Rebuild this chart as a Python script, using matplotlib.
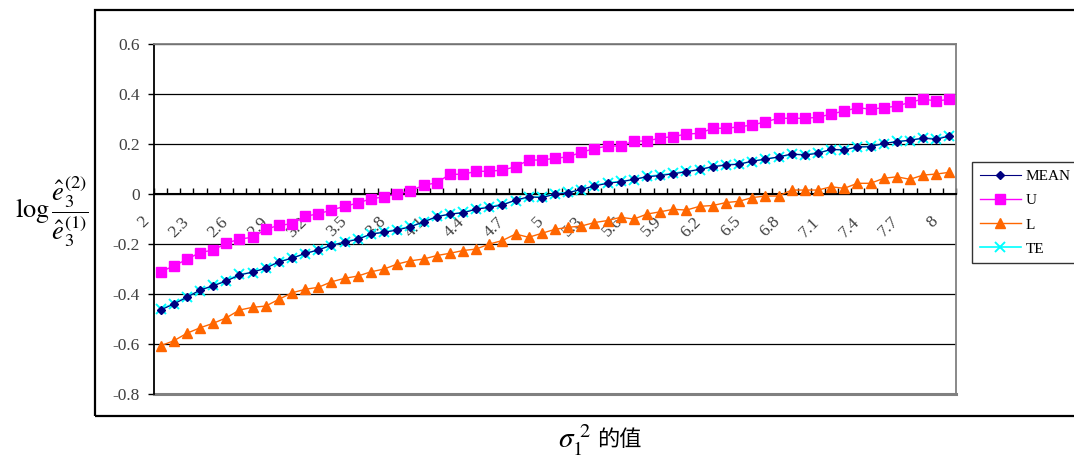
import matplotlib
matplotlib.use("Agg")
import matplotlib.pyplot as plt
import matplotlib.transforms as mtransforms
from matplotlib.patches import Rectangle
import numpy as np

plt.rcParams['font.family'] = ['Liberation Serif', 'Noto Sans CJK TC']
plt.rcParams['mathtext.fontset'] = 'stix'

# sigma_1^2 values (categories)
sigma_vals = ["2", "2.1", "2.2", "2.3", "2.4", "2.5", "2.6", "2.7", "2.8", "2.9",
              "3", "3.1", "3.2", "3.3", "3.4", "3.5", "3.6", "3.7", "3.8", "3.9",
              "4", "4.1", "4.2", "4.3", "4.4", "4.5", "4.6", "4.7", "4.8", "4.9",
              "5", "5.1", "5.2", "5.3", "5.4", "5.5", "5.6", "5.7", "5.8", "5.9",
              "6", "6.1", "6.2", "6.3", "6.4", "6.5", "6.6", "6.7", "6.8", "6.9",
              "7", "7.1", "7.2", "7.3", "7.4", "7.5", "7.6", "7.7", "7.8", "7.9",
              "8"]
shown_labels = ["2", "2.3", "2.6", "2.9", "3.2", "3.5", "3.8", "4.1", "4.4", "4.7",
                "5", "5.3", "5.6", "5.9", "6.2", "6.5", "6.8", "7.1", "7.4", "7.7", "8"]

mean_vals = [-0.463, -0.439, -0.412, -0.383, -0.366, -0.347, -0.323, -0.311, -0.296, -0.270,
             -0.256, -0.236, -0.223, -0.203, -0.192, -0.180, -0.159, -0.152, -0.143, -0.130,
             -0.110, -0.090, -0.079, -0.074, -0.060, -0.052, -0.043, -0.023, -0.010, -0.013,
             0.000, 0.006, 0.020, 0.033, 0.044, 0.050, 0.060, 0.070, 0.075, 0.082,
             0.090, 0.100, 0.110, 0.117, 0.120, 0.133, 0.140, 0.150, 0.161, 0.157,
             0.164, 0.180, 0.177, 0.190, 0.190, 0.204, 0.210, 0.217, 0.224, 0.220,
             0.233]
u_vals = [-0.310, -0.287, -0.260, -0.233, -0.223, -0.196, -0.179, -0.172, -0.140, -0.124,
          -0.118, -0.088, -0.078, -0.063, -0.048, -0.035, -0.018, -0.010, 0.001, 0.014,
          0.036, 0.046, 0.080, 0.080, 0.092, 0.092, 0.097, 0.110, 0.137, 0.137,
          0.144, 0.150, 0.168, 0.183, 0.193, 0.193, 0.213, 0.213, 0.225, 0.231,
          0.241, 0.244, 0.264, 0.264, 0.270, 0.277, 0.290, 0.304, 0.304, 0.304,
          0.308, 0.321, 0.333, 0.346, 0.341, 0.346, 0.353, 0.368, 0.381, 0.373,
          0.380]
l_vals = [-0.606, -0.586, -0.556, -0.534, -0.516, -0.494, -0.463, -0.452, -0.447, -0.420,
          -0.394, -0.380, -0.372, -0.350, -0.336, -0.327, -0.310, -0.299, -0.279, -0.266,
          -0.259, -0.245, -0.236, -0.225, -0.219, -0.199, -0.185, -0.159, -0.172, -0.156,
          -0.140, -0.132, -0.127, -0.113, -0.105, -0.092, -0.099, -0.079, -0.070, -0.060,
          -0.063, -0.048, -0.045, -0.033, -0.028, -0.013, -0.007, -0.007, 0.017, 0.017,
          0.017, 0.030, 0.024, 0.044, 0.044, 0.064, 0.070, 0.060, 0.077, 0.081,
          0.088]
te_vals = [-0.460, -0.437, -0.410, -0.385, -0.364, -0.345, -0.320, -0.313, -0.293, -0.270,
           -0.254, -0.238, -0.221, -0.205, -0.190, -0.178, -0.160, -0.150, -0.141, -0.128,
           -0.112, -0.088, -0.080, -0.072, -0.058, -0.050, -0.040, -0.025, -0.012, -0.010,
           0.002, 0.008, 0.018, 0.035, 0.046, 0.052, 0.058, 0.072, 0.077, 0.084,
           0.092, 0.098, 0.112, 0.118, 0.122, 0.131, 0.142, 0.148, 0.160, 0.159,
           0.166, 0.178, 0.179, 0.188, 0.192, 0.202, 0.212, 0.215, 0.226, 0.222,
           0.235]

y_ticks = [-0.8, -0.6, -0.4, -0.2, 0, 0.2, 0.4, 0.6]
y_ticklabels = ["-0.8", "-0.6", "-0.4", "-0.2", "0", "0.2", "0.4", "0.6"]

x = np.arange(len(sigma_vals))

fig = plt.figure(figsize=(10.74, 4.58), dpi=100)

# outer frame (Excel chart area)
fig.patches.append(Rectangle((95 / 1074, 1 - 416 / 458), 1.0, 406 / 458,
                             transform=fig.transFigure, fill=False,
                             edgecolor='black', linewidth=1.6, zorder=0))

ax = fig.add_axes([154 / 1074, 1 - 394.3 / 458, 802 / 1074, 350 / 458])

ax.plot(x, te_vals, color='#00FFFF', marker='x', markersize=7, mew=1.4,
        lw=1.2, label='TE', zorder=3)
ax.plot(x, mean_vals, color='#000080', marker='D', markersize=4.5,
        lw=0.8, label='MEAN', zorder=4)
ax.plot(x, u_vals, color='#FF00FF', marker='s', markersize=6.5,
        lw=1, label='U', zorder=3)
ax.plot(x, l_vals, color='#FF6600', marker='^', markersize=7.5,
        lw=1, label='L', zorder=3)

ax.set_xlim(-0.5, len(sigma_vals) - 0.5)
ax.set_ylim(-0.8, 0.6)
ax.set_axisbelow(True)

# y axis
ax.set_yticks(y_ticks)
ax.set_yticklabels(y_ticklabels, fontsize=12.5, color='#404040')
ax.tick_params(axis='y', direction='out', length=4, width=1, pad=6, color='black')
ax.yaxis.grid(True, color='black', lw=0.9)

# category axis crossing at 0
ax.spines['bottom'].set_position(('data', 0))
ax.spines['bottom'].set_linewidth(1.5)
ax.spines['left'].set_linewidth(1.3)
for side in ['top', 'right']:
    ax.spines[side].set_color('#808080')
    ax.spines[side].set_linewidth(1.3)
ax.axhline(-0.8, color='#808080', lw=2.2, clip_on=False, zorder=2.5)

ax.set_xticks(np.arange(-0.5, len(sigma_vals)), minor=True)
ax.tick_params(axis='x', which='minor', direction='in', length=4, width=1)
tick_pos = [sigma_vals.index(s) for s in shown_labels]
ax.set_xticks(tick_pos)
ax.set_xticklabels(shown_labels, rotation=45, ha='right', fontsize=12.5, color='#404040')
ax.tick_params(axis='x', which='major', length=0, pad=14)
offset = mtransforms.ScaledTranslation(-8 / 100, 0, fig.dpi_scale_trans)
for lab in ax.get_xticklabels():
    lab.set_transform(lab.get_transform() + offset)

# axis titles
fig.text(52 / 1074, 1 - 212 / 458,
         r'$\log\dfrac{\hat{e}_3^{(2)}}{\hat{e}_3^{(1)}}$',
         fontsize=19, ha='center', va='center')
fig.text(591 / 1074, 1 - 440 / 458, r'$\sigma_1^{\ 2}$',
         fontsize=21, ha='right', va='center')
fig.text(597 / 1074, 1 - 440 / 458, '的值', family=['Noto Sans CJK TC'],
         fontsize=16, ha='left', va='center')

# legend
handles, labels = ax.get_legend_handles_labels()
order = [labels.index(n) for n in ['MEAN', 'U', 'L', 'TE']]
leg = fig.legend([handles[i] for i in order], [labels[i] for i in order],
                 loc='upper left', bbox_to_anchor=(972 / 1074, 1 - 162 / 458),
                 bbox_transform=fig.transFigure, fontsize=11, frameon=True,
                 fancybox=False, edgecolor='black', borderpad=0.5,
                 labelspacing=0.68, handlelength=2.7, handletextpad=0.3,
                 borderaxespad=0)
leg.get_frame().set_linewidth(1.0)

plt.savefig('out.png', dpi=100)
plt.close()
